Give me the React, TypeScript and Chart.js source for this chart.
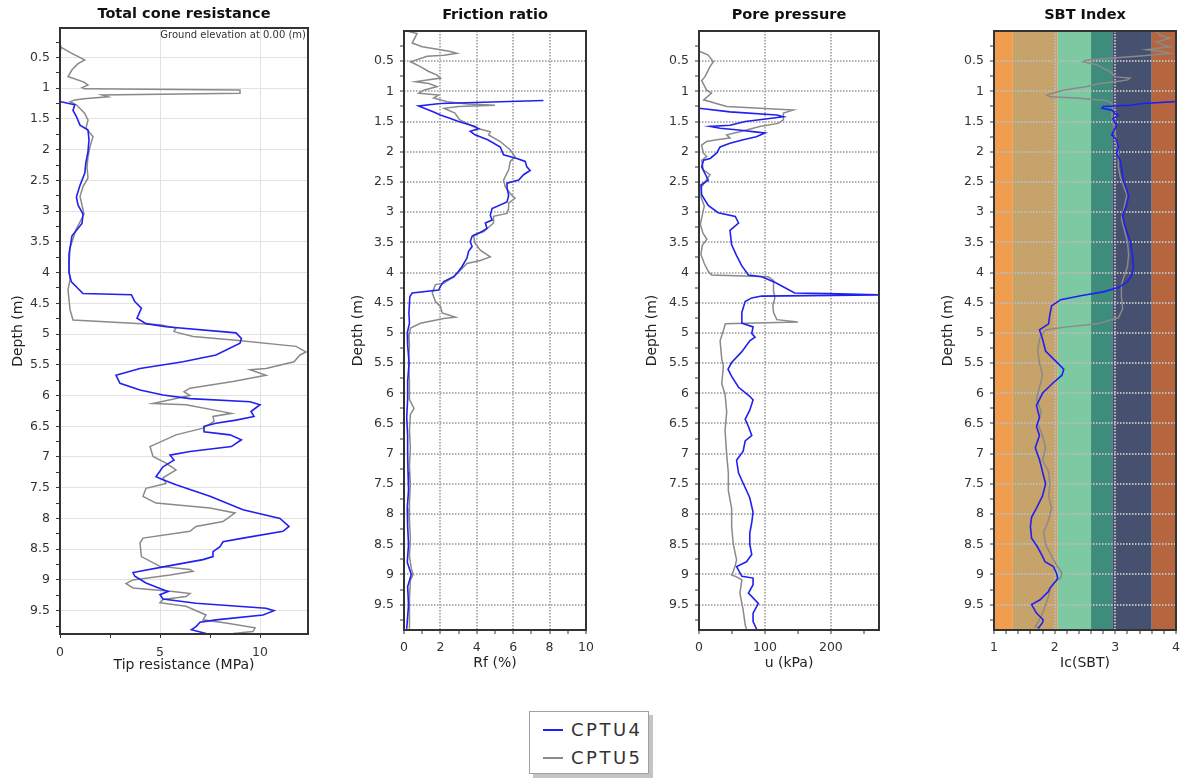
import React, { useEffect, useRef } from 'react';
import { Chart, registerables } from 'chart.js';

Chart.register(...registerables);

// ---------- Series names ----------
const seriesNames = ['CPTU4', 'CPTU5'];

// ---------- Depth axis ticks (m) ----------
const depthTicks = [0.25, 0.5, 0.75, 1, 1.25, 1.5, 1.75, 2, 2.25, 2.5, 2.75, 3, 3.25, 3.5, 3.75, 4, 4.25, 4.5, 4.75, 5,
  5.25, 5.5, 5.75, 6, 6.25, 6.5, 6.75, 7, 7.25, 7.5, 7.75, 8, 8.25, 8.5, 8.75, 9, 9.25, 9.5, 9.75];
const depthLabels = [0.5, 1, 1.5, 2, 2.5, 3, 3.5, 4, 4.5, 5, 5.5, 6, 6.5, 7, 7.5, 8, 8.5, 9, 9.5];

// ---------- Total cone resistance (MPa) ----------
const qtTicks = [0, 2.5, 5, 7.5, 10];
const qtLabels = [0, 5, 10];
const qtGrid = [5, 10];
const qtDepth4 = [1.22, 1.27, 1.36, 1.46, 1.6, 1.68, 1.84, 2.03, 2.22, 2.38, 2.58, 2.77, 2.9, 3.05, 3.2, 3.4, 3.7, 4.0, 4.15, 4.34,
  4.36, 4.47, 4.58, 4.74, 4.83, 4.88, 4.98, 5.07, 5.15, 5.34, 5.45, 5.56, 5.67, 5.8, 5.91, 5.99, 6.05, 6.1, 6.15, 6.26,
  6.34, 6.4, 6.45, 6.5, 6.59, 6.64, 6.72, 6.83, 6.91, 6.97, 7.05, 7.16, 7.32, 7.37, 7.45, 7.64, 7.86, 8.0, 8.13, 8.21,
  8.32, 8.38, 8.46, 8.54, 8.62, 8.67, 8.78, 8.88, 8.94, 9.05, 9.14, 9.19, 9.24, 9.31, 9.38, 9.46, 9.5, 9.57, 9.65, 9.69,
  9.76, 9.81, 9.88];
const qt4 = [0.04, 0.74, 0.65, 0.82, 1.0, 1.4, 1.45, 1.4, 1.29, 1.24, 1.0, 0.82, 0.9, 1.15, 1.1, 0.6, 0.45, 0.45, 0.57, 1.15,
  3.57, 3.74, 4.07, 3.85, 4.3, 5.3, 8.8, 9.07, 9.0, 7.8, 6.15, 4.0, 2.8, 3.0, 4.0, 5.15, 6.5, 9.5, 10.0, 9.55,
  9.7, 8.8, 7.8, 7.2, 7.2, 8.5, 9.07, 8.57, 6.5, 5.5, 5.7, 5.15, 4.8, 5.15, 5.8, 7.5, 9.15, 11.0, 11.45, 11.15,
  9.15, 8.15, 8.0, 7.65, 7.65, 7.15, 5.3, 3.65, 3.74, 4.3, 5.0, 5.4, 5.0, 5.15, 6.8, 10.3, 10.7, 10.15, 7.8, 7.0,
  6.8, 6.57, 7.4];
const qtDepth5 = [0.3, 0.33, 0.43, 0.54, 0.6, 0.7, 0.81, 0.9, 0.95, 0.99, 1.01, 1.03, 1.08, 1.11, 1.14, 1.17, 1.19, 1.22, 1.27, 1.41,
  1.52, 1.65, 1.79, 1.95, 2.12, 2.28, 2.46, 2.6, 2.76, 2.9, 3.05, 3.3, 3.6, 3.9, 4.12, 4.28, 4.6, 4.77, 4.85, 4.9,
  4.96, 5.04, 5.1, 5.2, 5.29, 5.34, 5.45, 5.56, 5.58, 5.67, 5.77, 5.88, 5.94, 6.0, 6.13, 6.15, 6.29, 6.34, 6.42, 6.53,
  6.64, 6.83, 6.99, 7.1, 7.21, 7.34, 7.43, 7.51, 7.64, 7.75, 7.83, 7.91, 8.05, 8.13, 8.21, 8.32, 8.4, 8.62, 8.78, 8.83,
  8.86, 8.92, 9.0, 9.06, 9.13, 9.19, 9.22, 9.27, 9.32, 9.37, 9.43, 9.57, 9.65, 9.7, 9.78, 9.84, 9.87];
const qt5 = [0.0, 0.04, 0.57, 1.24, 0.9, 0.6, 0.4, 1.2, 1.4, 1.1, 1.2, 9.0, 9.0, 2.1, 2.4, 1.2, 0.74, 0.5, 0.82, 1.24,
  1.4, 1.3, 1.65, 1.5, 1.4, 1.35, 1.4, 1.15, 1.0, 1.1, 1.2, 0.8, 0.5, 0.45, 0.5, 0.4, 0.5, 0.65, 5.0, 5.8,
  5.7, 6.65, 8.8, 11.8, 12.3, 12.0, 11.7, 10.3, 9.5, 10.3, 8.65, 6.5, 6.2, 6.5, 4.65, 6.3, 8.57, 7.65, 7.7, 7.15,
  5.8, 4.5, 4.65, 5.3, 5.8, 5.15, 5.3, 4.3, 4.15, 4.8, 7.5, 8.75, 8.15, 6.8, 6.5, 4.15, 4.0, 4.07, 5.0, 6.5,
  6.65, 5.5, 3.65, 3.3, 3.65, 5.65, 6.5, 6.3, 5.15, 5.0, 6.3, 7.3, 7.15, 8.3, 9.75, 9.65, 8.65];

// ---------- Friction ratio (%) ----------
const rfTicks = [0, 1, 2, 3, 4, 5, 6, 7, 8, 9, 10];
const rfLabels = [0, 2, 4, 6, 8, 10];
const rfGrid = [2, 4, 6, 8];
const rfDepth4 = [1.15, 1.2, 1.24, 1.34, 1.39, 1.45, 1.5, 1.58, 1.62, 1.66, 1.72, 1.8, 1.92, 2.05, 2.11, 2.16, 2.25, 2.31, 2.38, 2.47,
  2.52, 2.6, 2.72, 2.83, 2.94, 3.05, 3.13, 3.18, 3.27, 3.32, 3.4, 3.49, 3.57, 3.65, 3.76, 3.9, 3.98, 4.07, 4.15, 4.23,
  4.29, 4.34, 4.4, 4.67, 4.84, 5.0, 5.2, 5.5, 5.8, 6.1, 6.4, 6.7, 7.0, 7.3, 7.6, 7.9, 8.2, 8.5, 8.8, 9.0,
  9.2, 9.5, 9.7, 9.9];
const rf4 = [7.66, 2.0, 0.8, 1.63, 2.0, 2.55, 3.0, 3.9, 4.1, 3.64, 3.9, 4.6, 5.29, 5.47, 6.2, 6.66, 6.75, 6.93, 6.57, 6.3,
  5.66, 5.66, 5.75, 5.66, 4.84, 4.74, 4.84, 4.47, 4.56, 4.29, 3.74, 3.64, 3.74, 3.55, 3.46, 3.19, 3.0, 2.73, 2.18, 2.0,
  1.91, 0.45, 0.32, 0.27, 0.3, 0.18, 0.2, 0.28, 0.2, 0.2, 0.15, 0.2, 0.2, 0.22, 0.25, 0.18, 0.2, 0.25, 0.18, 0.4,
  0.2, 0.25, 0.2, 0.15];
const rfDepth5 = [0.01, 0.04, 0.2, 0.26, 0.31, 0.34, 0.37, 0.4, 0.42, 0.51, 0.59, 0.67, 0.73, 0.78, 0.81, 0.84, 0.87, 0.92, 0.98, 1.03,
  1.06, 1.11, 1.17, 1.21, 1.23, 1.25, 1.28, 1.36, 1.47, 1.53, 1.61, 1.67, 1.72, 1.83, 1.97, 2.08, 2.16, 2.3, 2.47, 2.58,
  2.69, 2.77, 2.85, 2.94, 3.02, 3.07, 3.18, 3.32, 3.38, 3.51, 3.63, 3.74, 3.8, 3.85, 3.96, 4.07, 4.18, 4.2, 4.34, 4.48,
  4.56, 4.67, 4.74, 4.76, 4.84, 4.92, 5.06, 5.2, 5.5, 5.8, 6.1, 6.25, 6.35, 6.6, 6.9, 7.2, 7.5, 7.8, 8.1, 8.4,
  8.7, 8.9, 9.0, 9.1, 9.4, 9.7, 9.9];
const rf5 = [0.26, 0.72, 0.45, 1.0, 2.0, 2.55, 2.9, 2.2, 1.27, 0.36, 0.9, 1.36, 1.82, 2.0, 1.27, 0.63, 1.36, 1.82, 1.08, 0.81,
  1.9, 1.63, 2.37, 3.5, 5.0, 3.0, 2.2, 2.8, 3.05, 3.46, 4.0, 4.74, 4.65, 5.29, 5.84, 6.1, 5.84, 5.75, 5.47, 5.56,
  5.84, 6.1, 5.75, 5.75, 5.66, 4.92, 4.92, 4.38, 3.82, 3.9, 4.19, 4.74, 4.19, 3.46, 3.1, 2.73, 2.18, 1.73, 1.55, 1.73,
  2.0, 2.1, 2.82, 2.18, 0.9, 0.36, 0.27, 0.3, 0.25, 0.3, 0.3, 0.55, 0.35, 0.3, 0.35, 0.3, 0.35, 0.3, 0.3, 0.35,
  0.3, 0.4, 0.5, 0.35, 0.3, 0.3, 0.3];

// ---------- Pore pressure (kPa) ----------
const uTicks = [0, 50, 100, 150, 200, 250];
const uLabels = [0, 100, 200];
const uGrid = [100, 200];
const uDepth4 = [1.28, 1.34, 1.39, 1.42, 1.45, 1.5, 1.56, 1.58, 1.61, 1.64, 1.67, 1.69, 1.75, 1.8, 1.86, 1.92, 2.02, 2.11, 2.14, 2.25,
  2.36, 2.47, 2.55, 2.71, 2.89, 3.01, 3.07, 3.18, 3.3, 3.54, 3.72, 3.89, 4.04, 4.07, 4.16, 4.34, 4.35, 4.37, 4.39, 4.42,
  4.48, 4.66, 4.84, 4.9, 5.01, 5.07, 5.13, 5.31, 5.49, 5.6, 5.72, 5.9, 6.05, 6.11, 6.28, 6.43, 6.55, 6.7, 6.79, 6.96,
  7.11, 7.32, 7.49, 7.73, 7.97, 8.14, 8.32, 8.5, 8.67, 8.79, 8.87, 9.03, 9.06, 9.17, 9.31, 9.48, 9.64, 9.78, 9.92];
const u4 = [0, 47, 118, 128, 107, 70, 47, 17, 32, 60, 85, 100, 87, 67, 47, 32, 27, 17, 7, 4,
  9, 14, 3, 4, 14, 29, 55, 60, 47, 49.5, 57, 65, 75, 95, 115, 145, 196, 272, 95, 80,
  70, 65, 65, 82, 80, 85, 77, 65, 49.5, 44, 49.5, 60, 77, 82, 77, 70, 75, 80, 70, 67,
  57, 60, 67, 77, 82, 80, 77, 77, 80, 72, 57, 65, 82, 82, 75, 90, 82, 82, 88];
const uDepth5 = [0.34, 0.4, 0.51, 0.59, 0.76, 0.82, 0.98, 1.03, 1.14, 1.25, 1.31, 1.36, 1.47, 1.53, 1.58, 1.67, 1.72, 1.77, 1.8, 1.83,
  1.89, 2.02, 2.08, 2.14, 2.3, 2.38, 2.5, 2.58, 2.75, 2.9, 3.05, 3.2, 3.35, 3.45, 3.55, 3.7, 3.85, 3.98, 4.04, 4.07,
  4.13, 4.3, 4.42, 4.55, 4.66, 4.78, 4.82, 4.85, 4.96, 5.13, 5.43, 5.55, 5.84, 6.02, 6.31, 6.61, 7.02, 7.32, 7.61, 7.91,
  8.2, 8.5, 8.76, 8.85, 8.95, 9.01, 9.04, 9.09, 9.31, 9.59, 9.83, 9.91];
const u5 = [1.5, 14, 21.7, 16.7, 9, 4, 11.6, 19, 7, 42, 143, 128, 128, 120, 92, 62, 42, 47, 27, 11.6,
  4, 6.6, 11.6, 4, 6.6, 16.7, 9, 4, 3, 8, 5, 2, 6, 12, 5, 3, 8, 14, 19, 105,
  113, 113, 115, 112, 113, 118, 150, 40, 37, 32, 34.5, 37, 34.5, 39.5, 42, 39.5, 42, 44.5, 44.5, 49.5,
  49.5, 52, 57, 55, 52, 49.5, 57, 65, 62, 67, 70, 72];

// ---------- SBT index Ic ----------
const icTicks = [1, 1.2, 1.4, 1.6, 1.8, 2, 2.2, 2.4, 2.6, 2.8, 3, 3.2, 3.4, 3.6, 3.8, 4];
const icLabels = [1, 2, 3, 4];
const icGrid = [2, 3];
const sbtZoneBounds = [1, 1.31, 2.05, 2.6, 2.95, 3.6, 4];
const sbtZoneColors = ['#f09d4e', '#c6a36a', '#7dc9a2', '#3e8c7b', '#46506f', '#b6663f'];
const icDepth4 = [1.17, 1.2, 1.23, 1.25, 1.28, 1.31, 1.37, 1.4, 1.45, 1.57, 1.68, 1.72, 1.8, 1.92, 2.03, 2.14, 2.31, 2.47, 2.63, 2.74,
  2.9, 3.05, 3.2, 3.35, 3.5, 3.7, 3.9, 4.05, 4.15, 4.25, 4.32, 4.38, 4.45, 4.55, 4.7, 4.85, 4.95, 5.1, 5.3, 5.45,
  5.6, 5.7, 5.85, 6.0, 6.2, 6.4, 6.55, 6.7, 6.9, 7.1, 7.3, 7.5, 7.7, 7.9, 8.05, 8.2, 8.4, 8.55, 8.7, 8.79,
  8.87, 8.98, 9.06, 9.11, 9.23, 9.28, 9.42, 9.5, 9.64, 9.75, 9.8, 9.89];
const ic4 = [3.98, 3.46, 3.24, 2.8, 2.78, 2.94, 3.0, 3.05, 2.96, 3.02, 2.96, 2.94, 3.02, 3.05, 3.02, 3.08, 3.11, 3.13, 3.19, 3.22,
  3.18, 3.12, 3.15, 3.2, 3.25, 3.28, 3.3, 3.27, 3.2, 3.05, 2.8, 2.45, 2.1, 1.95, 1.92, 1.9, 1.75, 1.8, 1.85, 2.0,
  2.15, 2.12, 1.95, 1.8, 1.7, 1.75, 1.7, 1.75, 1.68, 1.75, 1.8, 1.85, 1.8, 1.7, 1.62, 1.6, 1.62, 1.72, 1.8, 1.84,
  1.98, 2.03, 2.05, 2.02, 1.92, 1.9, 1.76, 1.62, 1.7, 1.81, 1.8, 1.73];
const icDepth5 = [0.01, 0.07, 0.12, 0.18, 0.23, 0.26, 0.31, 0.34, 0.37, 0.41, 0.48, 0.51, 0.56, 0.67, 0.76, 0.78, 0.81, 0.84, 0.87, 0.92,
  0.98, 1.06, 1.09, 1.11, 1.13, 1.15, 1.2, 1.28, 1.39, 1.5, 1.7, 1.86, 2.02, 2.25, 2.41, 2.55, 2.71, 2.9, 3.1, 3.3,
  3.5, 3.7, 3.9, 4.05, 4.2, 4.4, 4.6, 4.75, 4.85, 4.9, 4.95, 5.1, 5.3, 5.5, 5.7, 5.9, 6.1, 6.3, 6.5, 6.7,
  6.9, 7.1, 7.3, 7.5, 7.7, 7.9, 8.1, 8.3, 8.5, 8.7, 8.84, 8.98, 9.06, 9.14, 9.25, 9.36, 9.53, 9.67, 9.78, 9.86,
  9.89];
const ic5 = [3.68, 3.74, 3.9, 3.68, 3.79, 3.9, 3.52, 3.79, 3.9, 3.46, 2.53, 2.47, 2.69, 2.91, 3.0, 3.24, 3.2, 3.0, 2.75, 2.53,
  2.14, 1.87, 1.92, 2.36, 2.58, 2.86, 2.94, 2.96, 2.94, 2.96, 3.0, 3.02, 3.05, 3.05, 3.08, 3.13, 3.19, 3.15, 3.1, 3.15,
  3.2, 3.22, 3.2, 3.15, 3.1, 3.1, 3.12, 3.05, 2.7, 2.2, 1.85, 1.75, 1.72, 1.75, 1.8, 1.75, 1.7, 1.78, 1.72, 1.8,
  1.85, 1.8, 1.9, 1.92, 1.9, 1.95, 1.9, 1.82, 1.85, 1.95, 2.03, 2.12, 2.1, 1.98, 1.92, 1.9, 1.84, 1.79, 1.73, 1.68,
  1.75];

// ---------- Styling ----------
const FONT = '"DejaVu Sans", Verdana, sans-serif';
const BLUE = '#2020f0';
const GRAY = '#8a8a8a';
const CANVAS_H = 700;
const X_AXIS_H = 45;
const TITLE_SIZE = 14.5;
const AXIS_TITLE_SIZE = 14;

type PanelCfg = {
  canvasLeft: number; canvasWidth: number;
  plotLeft: number; plotTop: number; plotBottom: number; padRight: number;
  title: string; xTitle: string; xTitlePad: number; xTickPad: number; titleTop: number;
  xMin: number; xMax: number; xTicks: number[]; xLabels: number[]; xGrid: number[];
  yMin: number; yMax: number;
  d4: number[]; v4: number[]; d5: number[]; v5: number[];
  gridStyle: 'light' | 'dotted' | 'dottedLight';
  note?: string;
  zones?: number[]; zoneColors?: string[];
};

const panels: PanelCfg[] = [
  {
    canvasLeft: 0, canvasWidth: 330, plotLeft: 60, plotTop: 28, plotBottom: 634, padRight: 22,
    title: 'Total cone resistance', xTitle: 'Tip resistance (MPa)', xTitlePad: 5, xTickPad: 7, titleTop: 6,
    xMin: 0, xMax: 12.4, xTicks: qtTicks, xLabels: qtLabels, xGrid: qtGrid, yMin: 0.02, yMax: 9.88,
    d4: qtDepth4, v4: qt4, d5: qtDepth5, v5: qt5, gridStyle: 'light', note: 'Ground elevation at 0.00 (m)',
  },
  {
    canvasLeft: 340, canvasWidth: 270, plotLeft: 404, plotTop: 31, plotBottom: 630, padRight: 24,
    title: 'Friction ratio', xTitle: 'Rf (%)', xTitlePad: 3, xTickPad: 6, titleTop: 7,
    xMin: 0, xMax: 10, xTicks: rfTicks, xLabels: rfLabels, xGrid: rfGrid, yMin: 0, yMax: 9.92,
    d4: rfDepth4, v4: rf4, d5: rfDepth5, v5: rf5, gridStyle: 'dotted',
  },
  {
    canvasLeft: 634, canvasWidth: 270, plotLeft: 699, plotTop: 31, plotBottom: 630, padRight: 25,
    title: 'Pore pressure', xTitle: 'u (kPa)', xTitlePad: 3, xTickPad: 6, titleTop: 7,
    xMin: 0, xMax: 273, xTicks: uTicks, xLabels: uLabels, xGrid: uGrid, yMin: 0, yMax: 9.92,
    d4: uDepth4, v4: u4, d5: uDepth5, v5: u5, gridStyle: 'dotted',
  },
  {
    canvasLeft: 930, canvasWidth: 270, plotLeft: 994, plotTop: 31, plotBottom: 630, padRight: 24,
    title: 'SBT Index', xTitle: 'Ic(SBT)', xTitlePad: 3, xTickPad: 6, titleTop: 7,
    xMin: 1, xMax: 4, xTicks: icTicks, xLabels: icLabels, xGrid: icGrid, yMin: 0, yMax: 9.92,
    d4: icDepth4, v4: ic4, d5: icDepth5, v5: ic5, gridStyle: 'dottedLight',
    zones: sbtZoneBounds, zoneColors: sbtZoneColors,
  },
];

const decoPlugin = {
  id: 'deco',
  beforeDraw(chart: any, _args: any, opts: any) {
    const { ctx, chartArea: a, scales } = chart;
    if (opts.zones && opts.zoneColors) {
      const x = scales.x;
      ctx.save();
      for (let i = 0; i < opts.zones.length - 1; i++) {
        const x0 = x.getPixelForValue(opts.zones[i]);
        const x1 = x.getPixelForValue(opts.zones[i + 1]);
        ctx.fillStyle = opts.zoneColors[i];
        ctx.fillRect(x0, a.top, x1 - x0, a.bottom - a.top);
      }
      ctx.restore();
    }
  },
  afterDatasetsDraw(chart: any, _args: any, opts: any) {
    const { ctx, chartArea: a } = chart;
    ctx.save();
    ctx.strokeStyle = '#333333';
    ctx.lineWidth = 2;
    ctx.strokeRect(a.left, a.top, a.right - a.left, a.bottom - a.top);
    if (opts.note) {
      ctx.fillStyle = '#333333';
      ctx.font = `10px ${FONT}`;
      ctx.textAlign = 'right';
      ctx.textBaseline = 'middle';
      ctx.fillText(opts.note, a.right - 2, a.top + 7);
    }
    ctx.restore();
  },
};

function zip(d: number[], v: number[]) {
  return d.map((depth, i) => ({ x: v[i], y: depth }));
}

function buildChart(canvas: HTMLCanvasElement, p: PanelCfg) {
  const gridColor = p.gridStyle === 'light' ? '#e2e2e2' : p.gridStyle === 'dotted' ? '#b0b0b0' : '#bcbcbc';
  const gridWidth = p.gridStyle === 'light' ? 1 : 2;
  const dash = p.gridStyle === 'light' ? [] : [1.5, 1.5];
  const titleBottom = p.plotTop - p.titleTop - TITLE_SIZE * 1.2;
  return new Chart(canvas, {
    type: 'scatter',
    data: {
      datasets: [
        { label: seriesNames[0], data: zip(p.d4, p.v4), borderColor: BLUE, backgroundColor: BLUE, showLine: true, pointRadius: 0, borderWidth: 1.6 },
        { label: seriesNames[1], data: zip(p.d5, p.v5), borderColor: GRAY, backgroundColor: GRAY, showLine: true, pointRadius: 0, borderWidth: 1.5 },
      ],
    },
    options: {
      animation: false,
      responsive: false,
      maintainAspectRatio: false,
      events: [],
      layout: { padding: { left: 0, right: p.padRight, top: 0, bottom: CANVAS_H - p.plotBottom - X_AXIS_H } },
      plugins: {
        legend: { display: false },
        tooltip: { enabled: false },
        title: {
          display: true, text: p.title, fullSize: false, color: '#111111',
          font: { family: FONT, size: TITLE_SIZE, weight: 'bold' },
          padding: { top: p.titleTop, bottom: titleBottom },
        },
        deco: { note: p.note, zones: p.zones, zoneColors: p.zoneColors },
      } as any,
      scales: {
        x: {
          type: 'linear', position: 'bottom', min: p.xMin, max: p.xMax,
          afterBuildTicks: (s: any) => { s.ticks = p.xTicks.map((v) => ({ value: v })); },
          afterFit: (s: any) => { s.height = X_AXIS_H; },
          ticks: {
            autoSkip: false, maxRotation: 0, padding: p.xTickPad, color: '#333333',
            font: { family: FONT, size: 12.5 },
            callback: (v: any) => (p.xLabels.includes(Number(v)) ? String(v) : ''),
          },
          grid: {
            color: (ctx: any) => (ctx.tick && p.xGrid.includes(ctx.tick.value) ? gridColor : 'rgba(0,0,0,0)'),
            lineWidth: gridWidth, tickLength: 4, tickColor: '#333333', tickWidth: 1,
          },
          border: { display: false, dash },
          title: {
            display: true, text: p.xTitle, color: '#222222',
            font: { family: FONT, size: AXIS_TITLE_SIZE },
            padding: { top: 0, bottom: p.xTitlePad },
          },
        },
        y: {
          type: 'linear', position: 'left', reverse: true, min: p.yMin, max: p.yMax,
          afterBuildTicks: (s: any) => { s.ticks = depthTicks.map((v) => ({ value: v })); },
          afterFit: (s: any) => { s.width = p.plotLeft - p.canvasLeft; },
          ticks: {
            autoSkip: false, padding: 6, color: '#333333',
            font: { family: FONT, size: 12.5 },
            callback: (v: any) => (depthLabels.includes(Number(v)) ? String(v) : ''),
          },
          grid: {
            color: (ctx: any) => (ctx.tick && depthLabels.includes(ctx.tick.value) ? gridColor : 'rgba(0,0,0,0)'),
            lineWidth: gridWidth, tickLength: 4, tickColor: '#333333', tickWidth: 1,
          },
          border: { display: false, dash },
          title: {
            display: true, text: 'Depth (m)', color: '#222222',
            font: { family: FONT, size: AXIS_TITLE_SIZE },
            padding: { top: 10, bottom: 0 },
          },
        },
      },
    } as any,
    plugins: [decoPlugin as any],
  });
}

function Panel({ cfg }: { cfg: PanelCfg }) {
  const ref = useRef<HTMLCanvasElement>(null);
  useEffect(() => {
    const chart = buildChart(ref.current as HTMLCanvasElement, cfg);
    return () => chart.destroy();
  }, [cfg]);
  return (
    <canvas
      ref={ref}
      width={cfg.canvasWidth}
      height={CANVAS_H}
      style={{ position: 'absolute', left: cfg.canvasLeft, top: 0, width: cfg.canvasWidth, height: CANVAS_H }}
    />
  );
}

function Legend() {
  const row = (name: string, color: string, top: number) => (
    <div style={{ position: 'absolute', left: 0, top, height: 26, width: '100%' }}>
      <div style={{ position: 'absolute', left: 13, top: 12, width: 20, height: 2, background: color }} />
      <div
        style={{
          position: 'absolute', left: 41, top: 0, lineHeight: '26px', fontFamily: FONT,
          fontSize: 18, letterSpacing: 2.5, color: '#333333', whiteSpace: 'nowrap',
        }}
      >
        {name}
      </div>
    </div>
  );
  return (
    <div
      style={{
        position: 'absolute', left: 529, top: 711, width: 118, height: 61,
        border: '1px solid #a0a0a0', background: '#ffffff', boxShadow: '4px 4px 0 #c4c4c4',
      }}
    >
      {row(seriesNames[0], BLUE, 5)}
      {row(seriesNames[1], GRAY, 33)}
    </div>
  );
}

export default function App() {
  return (
    <div style={{ position: 'absolute', left: 0, top: 0, width: 1184, height: 780, background: '#ffffff', overflow: 'hidden' }}>
      {panels.map((p) => (
        <Panel key={p.title} cfg={p} />
      ))}
      <Legend />
    </div>
  );
}
